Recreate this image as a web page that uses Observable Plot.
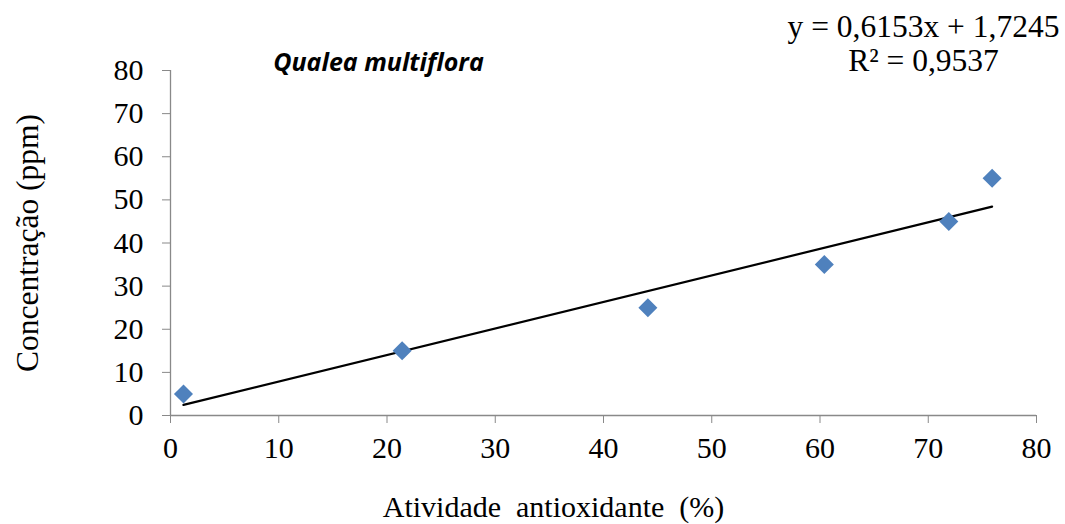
<!DOCTYPE html>
<html>
<head>
<meta charset="utf-8">
<script src="https://cdn.jsdelivr.net/npm/d3@7"></script>
<script src="https://cdn.jsdelivr.net/npm/@observablehq/plot@0.6"></script>
<style>
  html, body { margin: 0; padding: 0; background: #fff; }
  #chart svg { display: block; }
</style>
</head>
<body>
<div id="chart"></div>
<script>
// Data
const atividade = [1.2, 21.4, 44.1, 60.4, 71.9, 75.9];
const concentracao = [5, 15, 25, 35, 45, 55];
const slope = 0.6153;
const intercept = 1.7245;
const xTicks = [0, 10, 20, 30, 40, 50, 60, 70, 80];
const yTicks = [0, 10, 20, 30, 40, 50, 60, 70, 80];
const title = "Qualea multiflora";
const eqText = "y = 0,6153x + 1,7245";
const r2Text = "R² = 0,9537";

const points = atividade.map((x, i) => ({x, y: concentracao[i]}));
const xmin = d3.min(atividade), xmax = d3.max(atividade);
const trend = [xmin, xmax].map(x => ({x, y: slope * x + intercept}));

const serif = "'Liberation Serif', 'Times New Roman', serif";
const axisGray = "#898989";

const plot = Plot.plot({
  width: 1065,
  height: 524,
  marginLeft: 170,
  marginRight: 29,
  marginTop: 70,
  marginBottom: 109,
  style: {fontFamily: serif, fontSize: "30px", background: "#fff", color: "#000"},
  x: {domain: [0, 80]},
  y: {domain: [0, 80]},
  marks: [
    Plot.axisY({ticks: yTicks, tickSize: 8, tickPadding: 19, stroke: axisGray, fill: "#000", label: null, fontSize: 30}),
    Plot.axisX({ticks: xTicks, tickSize: 8, tickPadding: 13, stroke: axisGray, fill: "#000", label: null, fontSize: 30}),
    Plot.ruleX([0], {y1: 0, y2: 80, stroke: axisGray, strokeWidth: 1.3}),
    Plot.ruleY([0], {x1: 0, x2: 80, stroke: axisGray, strokeWidth: 1.3}),
    Plot.line(trend, {x: "x", y: "y", stroke: "#000", strokeWidth: 2.2}),
    Plot.dot(points, {x: "x", y: "y", symbol: "square", r: 7.6, rotate: 45, fill: "#4F81BD", stroke: "none"}),
    Plot.text([title], {frameAnchor: "top-left", lineAnchor: "middle", dx: 208, dy: -8, text: d => d, fontFamily: "'Open Sans', 'Liberation Sans', sans-serif", fontWeight: "bold", fontStyle: "italic", fontSize: 25, textAnchor: "middle", fill: "#000"}),
    Plot.text([eqText], {frameAnchor: "top-left", lineAnchor: "middle", dx: 753, dy: -44, text: d => d, fontSize: 31.5, textAnchor: "middle", fill: "#000"}),
    Plot.text([r2Text], {frameAnchor: "top-left", lineAnchor: "middle", dx: 753, dy: -10, text: d => d, fontSize: 31.5, textAnchor: "middle", fill: "#000"}),
    Plot.text(["Atividade\u2002antioxidante\u2002(%)"], {frameAnchor: "bottom", lineAnchor: "middle", dx: -50, dy: 92, text: d => d, fontSize: 30, textAnchor: "middle", fill: "#000"}),
    Plot.text(["Concentração (ppm)"], {frameAnchor: "left", lineAnchor: "middle", dx: -143, dy: 0, rotate: -90, text: d => d, fontSize: 31.5, textAnchor: "middle", fill: "#000"})
  ]
});
document.getElementById("chart").appendChild(plot);
</script>
</body>
</html>
